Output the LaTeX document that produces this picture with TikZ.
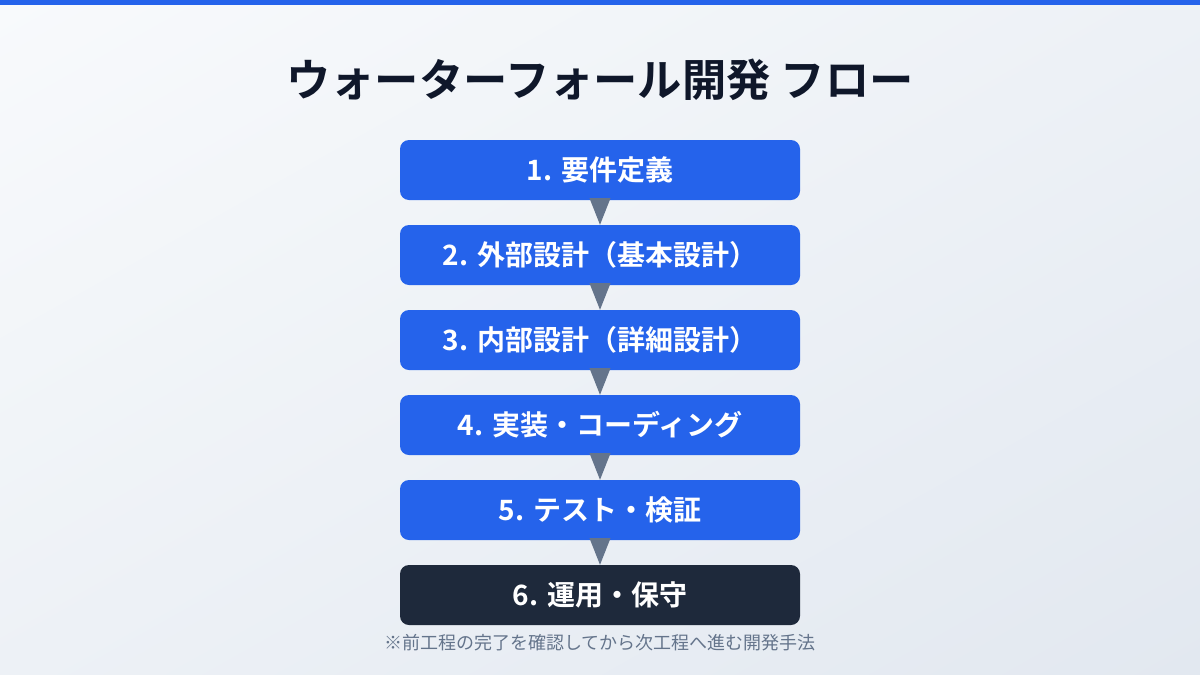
\documentclass[tikz,border=0pt]{standalone}
\usepackage{fontspec}
\newfontfamily\jp{Noto Sans CJK JP}[BoldFont=* Bold]
\usetikzlibrary{calc,shadings}
\definecolor{bgA}{HTML}{F8FAFC}
\definecolor{bgB}{HTML}{E2E8F0}
\colorlet{bgM}{bgA!50!bgB}
\definecolor{blueC}{HTML}{2563EB}
\definecolor{darkC}{HTML}{1E293B}
\definecolor{titleC}{HTML}{0F172A}
\definecolor{arrowC}{HTML}{64748B}
\tikzset{
  x=1pt,y=-1pt,
  stepbox/.style={rectangle,rounded corners=9pt,minimum width=400pt,minimum height=60pt,inner sep=0pt,fill=blueC,text=white,font=\jp\bfseries\fontsize{28}{32}\selectfont},
  lastbox/.style={stepbox,fill=darkC},
  flowarrow/.style={fill=arrowC}
}
\begin{document}
\begin{tikzpicture}
\useasboundingbox (0,0) rectangle (1200,675);
\shade[upper left=bgA,lower right=bgB,upper right=bgM,lower left=bgM] (0,0) rectangle (1200,675);
\fill[blueC] (0,0) rectangle (1200,5);
\node[font=\jp\bfseries\fontsize{44.3}{50}\selectfont,text=titleC] (title) at (600,80) {ウォーターフォール開発 フロー};
\node[stepbox] (s1) at (600,170) {1. 要件定義};
\node[stepbox] (s2) at (600,255) {2. 外部設計（基本設計）};
\node[stepbox] (s3) at (600,340) {3. 内部設計（詳細設計）};
\node[stepbox] (s4) at (600,425) {4. 実装・コーディング};
\node[stepbox] (s5) at (600,510) {5. テスト・検証};
\node[lastbox] (s6) at (600,595) {6. 運用・保守};
\foreach \a/\b in {s1/s2,s2/s3,s3/s4,s4/s5,s5/s6}{
  \fill[flowarrow] ($(\a.south)+(-10.5,-2)$) -- ($(\a.south)+(10.5,-2)$) -- (\b.north) -- cycle;
}
\node[font=\jp\fontsize{18}{21}\selectfont,text=arrowC] (note) at (600,643) {※前工程の完了を確認してから次工程へ進む開発手法};
\end{tikzpicture}
\end{document}
